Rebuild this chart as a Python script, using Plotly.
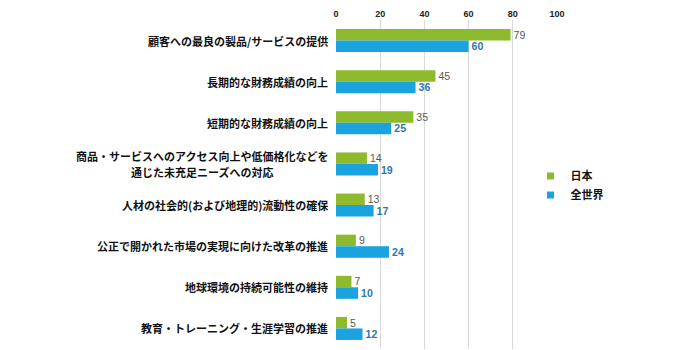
import plotly.graph_objects as go

categories = [
    "顧客への最良の製品/サービスの提供",
    "長期的な財務成績の向上",
    "短期的な財務成績の向上",
    "商品・サービスへのアクセス向上や低価格化などを<br>通じた未充足ニーズへの対応",
    "人材の社会的(および地理的)流動性の確保",
    "公正で開かれた市場の実現に向けた改革の推進",
    "地球環境の持続可能性の維持",
    "教育・トレーニング・生涯学習の推進",
]
japan = [79, 45, 35, 14, 13, 9, 7, 5]
world = [60, 36, 25, 19, 17, 24, 10, 12]
series_names = ["日本", "全世界"]
x_ticks = [0, 20, 40, 60, 80, 100]

GREEN = "#8DBB2D"
BLUE = "#1AA3DE"
FONT = "Noto Sans CJK JP"
LABEL_SIZE = 11

fig = go.Figure()
fig.add_trace(go.Bar(
    y=categories, x=japan, orientation="h", name=series_names[0],
    marker=dict(color=GREEN, line=dict(width=0)),
    text=japan, texttemplate="%{x}", textposition="outside",
    textfont=dict(color="#595959", size=11, family="Liberation Sans"),
    cliponaxis=False, showlegend=False,
))
fig.add_trace(go.Bar(
    y=categories, x=world, orientation="h", name=series_names[1],
    marker=dict(color=BLUE, line=dict(width=0)),
    text=world, texttemplate="<b>%{x}</b>", textposition="outside",
    textfont=dict(color="#2E75B6", size=11, family="Liberation Sans"),
    cliponaxis=False, showlegend=False,
))
# legend entries with small square symbols
for name, col in zip(series_names, [GREEN, BLUE]):
    fig.add_trace(go.Scatter(
        x=[None], y=[None], mode="markers", name="<b>" + name + "</b>",
        marker=dict(symbol="square", size=7, color=col),
    ))

# category labels (multi-line ones centred line by line, 16px line pitch)
for cat in categories:
    lines = cat.split("<br>")
    widest = max(len(l) for l in lines)
    n = len(lines)
    for i, line in enumerate(lines):
        extra = (widest - len(line)) * LABEL_SIZE / 2
        fig.add_annotation(
            x=0, xref="paper", y=cat, yref="y", xanchor="right",
            xshift=-6 - extra, yshift=((n - 1) / 2 - i) * 16,
            text="<b>" + line + "</b>", showarrow=False,
            font=dict(family=FONT, size=LABEL_SIZE, color="#111111"),
        )

fig.update_layout(
    width=700, height=350,
    margin=dict(l=336, r=143, t=20, b=1),
    paper_bgcolor="white", plot_bgcolor="white",
    barmode="group", bargap=0.44, bargroupgap=0,
    xaxis=dict(
        side="top", range=[0, 100], tickvals=x_ticks,
        ticktext=["<b>%d</b>" % v for v in x_ticks],
        tickfont=dict(family="Liberation Sans", size=9, color="#222222"),
        showgrid=True, gridcolor="#D9D9D9", gridwidth=1,
        zeroline=False, showline=False, ticks="",
    ),
    yaxis=dict(
        categoryorder="array", categoryarray=categories,
        autorange="reversed", showticklabels=False,
        showgrid=False, zeroline=False, showline=False, ticks="",
    ),
    legend=dict(
        x=0.88, xanchor="left", y=0.57, yanchor="top",
        font=dict(family=FONT, size=11, color="#111111"),
        itemwidth=30, tracegroupgap=0, bgcolor="rgba(0,0,0,0)",
    ),
    font=dict(family=FONT),
)

fig.write_html("out.html")
